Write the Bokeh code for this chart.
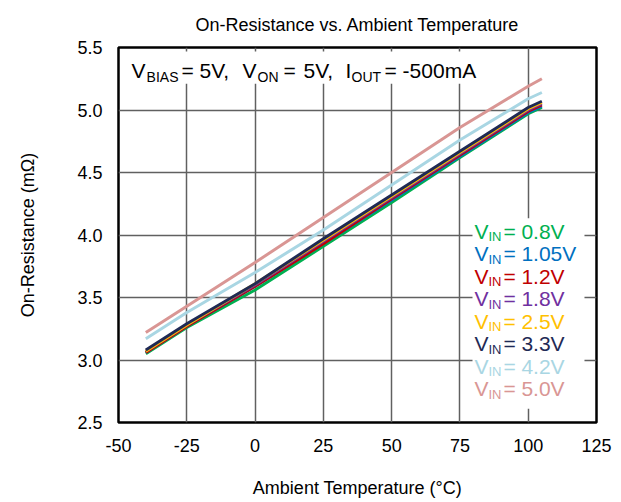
from bokeh.plotting import figure
from bokeh.models import (Label, BoxAnnotation, FixedTicker, NumeralTickFormatter, Range1d)
from bokeh.embed import file_html
from bokeh.resources import INLINE

# ---- data ----
temps = [-40, -25, 0, 25, 50, 75, 100, 105]
r_0v8 = [3.05, 3.26, 3.56, 3.91, 4.26, 4.62, 4.97, 5.02]
r_1v05 = [3.06, 3.27, 3.59, 3.93, 4.28, 4.63, 4.98, 5.03]
r_1v2 = [3.06, 3.27, 3.59, 3.93, 4.29, 4.64, 4.99, 5.04]
r_1v8 = [3.07, 3.28, 3.60, 3.95, 4.30, 4.65, 5.00, 5.05]
r_2v5 = [3.07, 3.28, 3.61, 3.96, 4.31, 4.66, 5.01, 5.06]
r_3v3 = [3.08, 3.29, 3.61, 3.97, 4.32, 4.67, 5.02, 5.07]
r_4v2 = [3.17, 3.38, 3.70, 4.04, 4.40, 4.76, 5.09, 5.14]
r_5v0 = [3.22, 3.43, 3.78, 4.14, 4.50, 4.86, 5.19, 5.25]

series_labels = ["0.8V", "1.05V", "1.2V", "1.8V", "2.5V", "3.3V", "4.2V", "5.0V"]
series_values = [r_0v8, r_1v05, r_1v2, r_1v8, r_2v5, r_3v3, r_4v2, r_5v0]
series_colors = ["#00B050", "#0070C0", "#C00000", "#7030A0", "#FFC000", "#1F2A55", "#A9D6E3", "#D99694"]

x_ticks = [-50, -25, 0, 25, 50, 75, 100, 125]
y_ticks = [2.5, 3.0, 3.5, 4.0, 4.5, 5.0, 5.5]

FONT = "Liberation Sans"

p = figure(width=620, height=500, output_backend="svg", toolbar_location=None,
           x_range=Range1d(-50, 125), y_range=Range1d(2.5, 5.5),
           min_border_left=118, min_border_right=24, min_border_top=46, min_border_bottom=76,
           title="On-Resistance vs. Ambient Temperature")

p.title.align = "center"
p.title.text_font = FONT
p.title.text_font_size = "18px"
p.title.text_font_style = "normal"
p.title.text_color = "black"
p.title.standoff = 25

p.outline_line_color = "black"
p.outline_line_width = 2.5
p.background_fill_color = "white"
p.border_fill_color = "white"

for ax in (p.xaxis[0], p.yaxis[0]):
    ax.axis_line_color = None
    ax.major_tick_line_color = None
    ax.minor_tick_line_color = None
    ax.major_tick_out = 0
    ax.major_tick_in = 0
    ax.major_label_text_font = FONT
    ax.major_label_text_font_size = "18px"
    ax.major_label_text_color = "black"
    ax.axis_label_text_font = FONT
    ax.axis_label_text_font_size = "18px"
    ax.axis_label_text_font_style = "normal"
    ax.axis_label_text_color = "black"

p.xaxis.ticker = FixedTicker(ticks=x_ticks)
p.yaxis.ticker = FixedTicker(ticks=y_ticks)
p.xaxis.formatter = NumeralTickFormatter(format="0")
p.yaxis.formatter = NumeralTickFormatter(format="0.0")
p.xaxis.axis_label = "Ambient Temperature (°C)"
p.yaxis.axis_label = "On-Resistance (mΩ)"
p.xaxis.major_label_standoff = 16
p.xaxis.axis_label_standoff = 23
p.yaxis.major_label_standoff = 16
p.yaxis.axis_label_standoff = 36

p.xgrid.grid_line_color = "#606060"
p.ygrid.grid_line_color = "#606060"
p.xgrid.grid_line_width = 1.5
p.ygrid.grid_line_width = 1.5

# white boxes behind annotation and legend
p.add_layout(BoxAnnotation(left=-47.4, right=82.5, top=5.468, bottom=5.21,
                           fill_color="white", fill_alpha=1, line_color=None, level="underlay"))
p.add_layout(BoxAnnotation(left=79.6, right=120.6, top=4.135, bottom=2.611,
                           fill_color="white", fill_alpha=1, line_color=None, level="underlay"))

for vals, col in zip(series_values, series_colors):
    p.line(temps, vals, line_color=col, line_width=3)

MAIN = 21

# ---- condition annotation with subscripts (token, is_subscript, x offset px) ----
ann_x = -45.2
ann_base = 5.318
ann_sub = 5.262
ann_tokens = [("V", False, 0), ("BIAS", True, 15), ("=", False, 50), ("5V,", False, 68),
              ("V", False, 111), ("ON", True, 126), ("=", False, 152), ("5V,", False, 172),
              ("I", False, 214), ("OUT", True, 220), ("=", False, 253), ("-500mA", False, 271)]
for txt, sub, off in ann_tokens:
    p.add_layout(Label(x=ann_x, y=ann_sub if sub else ann_base, x_offset=off, text=txt,
                       text_font=FONT, text_font_size="14px" if sub else f"{MAIN}px",
                       text_color="black", text_baseline="alphabetic", text_align="left"))

# ---- legend with subscripts ----
leg_x = 80.3
leg_base0 = 4.032
leg_sub_drop = 0.047
leg_step = 0.180
for i, (lab, col) in enumerate(zip(series_labels, series_colors)):
    yb = leg_base0 - i * leg_step
    parts = [("V", False, 0), ("IN", True, 14), ("=", False, 29), (lab, False, 47)]
    for txt, sub, off in parts:
        p.add_layout(Label(x=leg_x, y=yb - leg_sub_drop if sub else yb, x_offset=off, text=txt,
                           text_font=FONT, text_font_size="13px" if sub else f"{MAIN}px",
                           text_color=col, text_baseline="alphabetic", text_align="left"))

open("out.html", "w").write(file_html(p, INLINE))
